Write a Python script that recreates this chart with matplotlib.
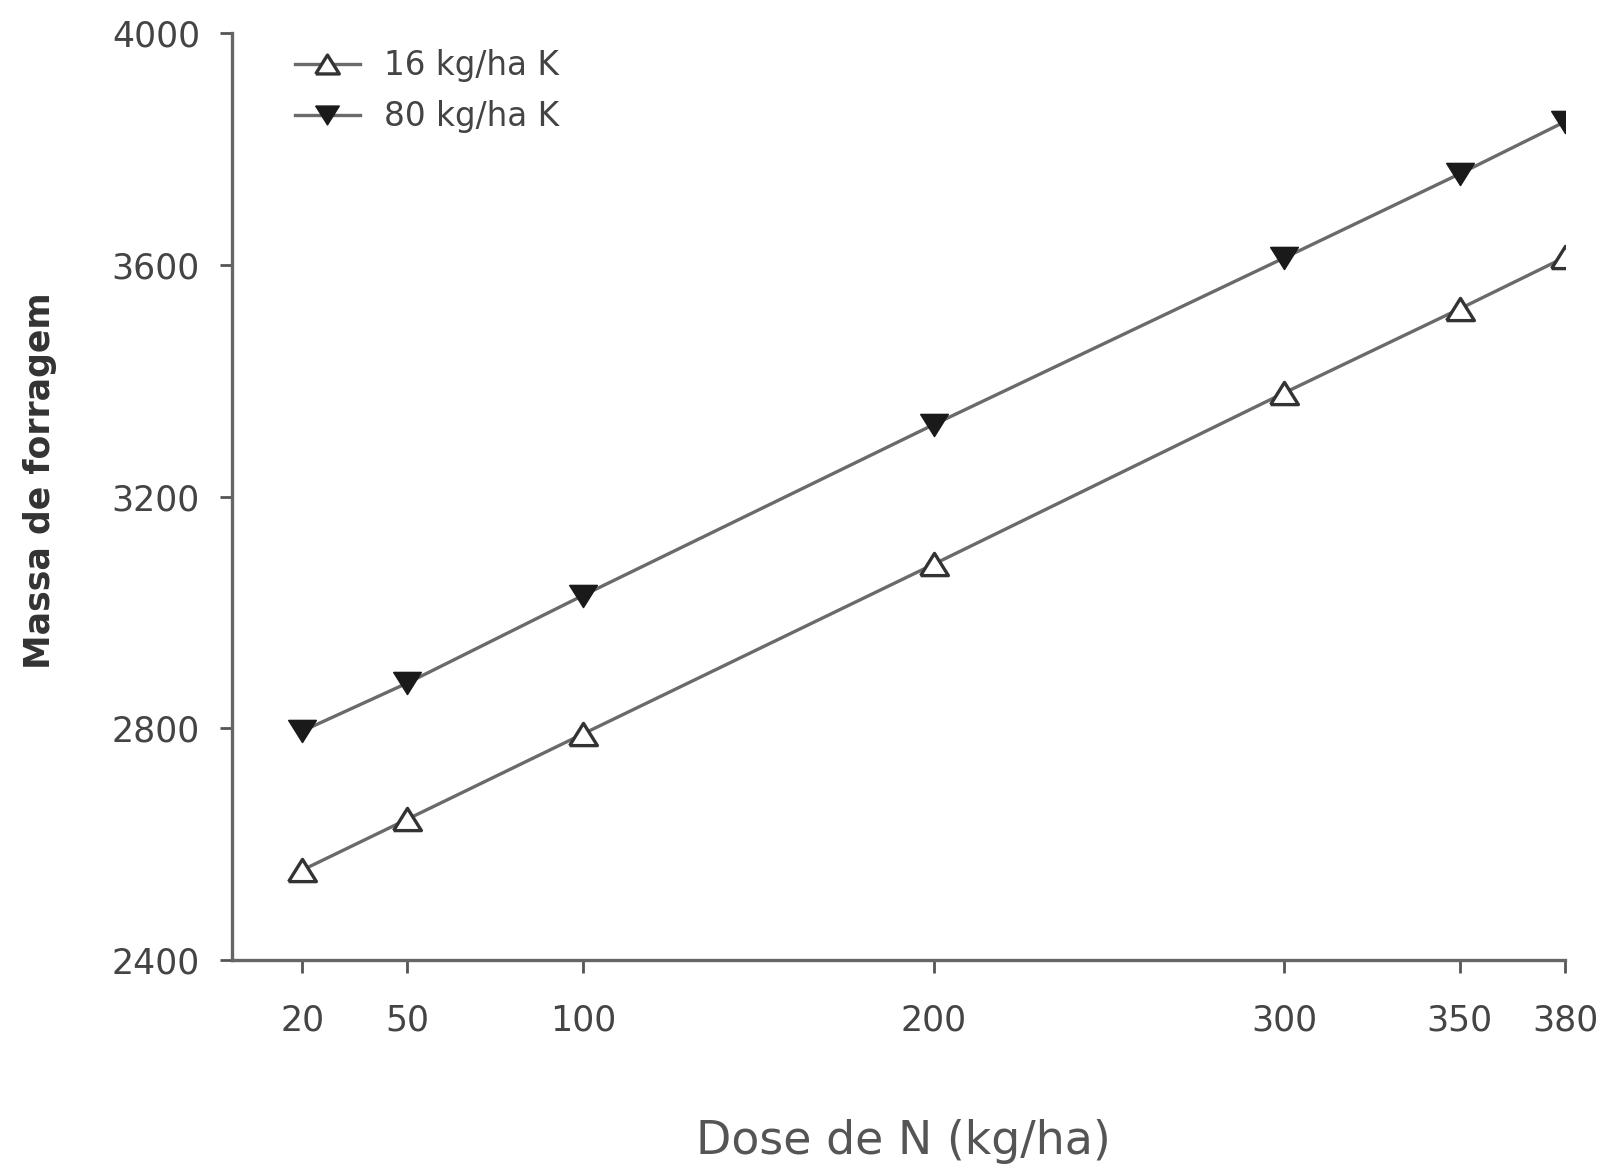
import matplotlib
matplotlib.use("Agg")
import matplotlib.pyplot as plt

plt.rcParams['font.family'] = ['DejaVu Sans']

dose_n = [20, 50, 100, 200, 300, 350, 380]
massa_16k = [2555, 2643, 2790, 3083, 3379, 3524, 3613]
massa_80k = [2795, 2878, 3029, 3324, 3612, 3757, 3847]
series_labels = ["16 kg/ha K", "80 kg/ha K"]
y_ticks = [2400, 2800, 3200, 3600, 4000]

fig = plt.figure(figsize=(16.04, 11.67), dpi=100)
ax = fig.add_axes([0.1446, 0.1774, 0.8311, 0.7943])

tri_up = [(-1, -0.8), (1, -0.8), (0, 0.8), (-1, -0.8)]
tri_dn = [(-1, 0.8), (1, 0.8), (0, -0.8), (-1, 0.8)]

line_col = '#6a6a6a'
ax.plot(dose_n, massa_16k, color=line_col, lw=2.4, marker=tri_up, markersize=20,
        markerfacecolor='white', markeredgecolor='#333333', markeredgewidth=2.4,
        label=series_labels[0], zorder=3)
ax.plot(dose_n, massa_80k, color=line_col, lw=2.4, marker=tri_dn, markersize=20,
        markerfacecolor='#1a1a1a', markeredgecolor='#1a1a1a', markeredgewidth=1,
        label=series_labels[1], zorder=3)

ax.set_xlim(0, 380)
ax.set_ylim(2400, 4000)
ax.set_xticks(dose_n)
ax.set_yticks(y_ticks)
ax.tick_params(axis='both', direction='out', length=9, width=2, color='#555555',
               labelsize=25, labelcolor='#444444')
ax.tick_params(axis='x', pad=22)
ax.tick_params(axis='y', pad=14)

for s in ['top', 'right']:
    ax.spines[s].set_visible(False)
for s in ['left', 'bottom']:
    ax.spines[s].set_color('#666666')
    ax.spines[s].set_linewidth(2.4)

ax.set_xlabel("Dose de N (kg/ha)", fontsize=33, color='#555555')
ax.xaxis.set_label_coords(0.504, -0.172)
ax.set_ylabel("Massa de forragem", fontsize=25, fontweight='bold', color='#333333')
ax.yaxis.set_label_coords(-0.131, 0.517)

leg = ax.legend(loc='upper left', bbox_to_anchor=(0.025, 1.014), frameon=False,
                prop={'size': 23.5}, labelcolor='#444444',
                handlelength=2.0, handletextpad=0.75, labelspacing=0.55,
                markerscale=0.85)

fig.savefig("out.png", dpi=100)
